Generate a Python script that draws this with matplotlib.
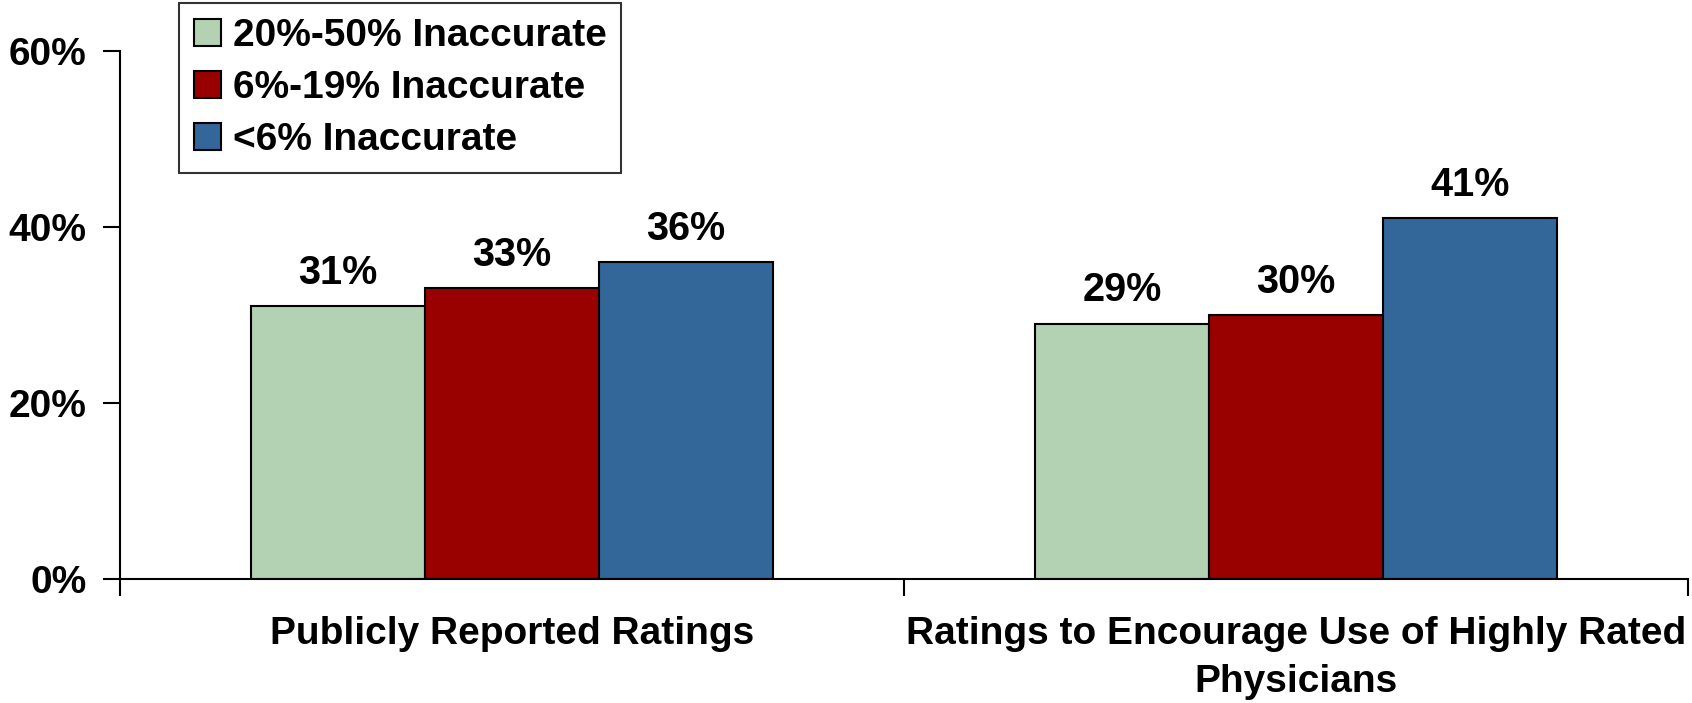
import matplotlib
matplotlib.use("Agg")
import matplotlib.pyplot as plt
from matplotlib.ticker import FixedLocator, PercentFormatter

categories = ["Publicly Reported Ratings",
              "Ratings to Encourage Use of Highly Rated\nPhysicians"]
series_names = ["20%-50% Inaccurate", "6%-19% Inaccurate", "<6% Inaccurate"]
values_high = [31, 29]
values_mid = [33, 30]
values_low = [36, 41]
y_ticks = [0, 20, 40, 60]

colors = ["#B3D2B3", "#990000", "#336699"]
series = [values_high, values_mid, values_low]

plt.rcParams['font.family'] = ['Liberation Sans', 'DejaVu Sans']
plt.rcParams['font.weight'] = 'bold'
FS = 28

fig = plt.figure(figsize=(16.92, 7.03), dpi=100)
ax = fig.add_axes([120/1692, 1-579/703, (1688-120)/1692, (579-50.7)/703])

x = list(range(len(categories)))
bw = 0.222
for i, (vals, c, name) in enumerate(zip(series, colors, series_names)):
    pos = [xi + (i - 1) * bw for xi in x]
    bars = ax.bar(pos, vals, width=bw, color=c, edgecolor='black', linewidth=1.5,
                  label=name, zorder=2)
    for b, v in zip(bars, vals):
        ax.annotate(f"{v}%", (b.get_x() + b.get_width()/2, v), xytext=(0, 16),
                    textcoords='offset points', ha='center', va='baseline',
                    fontsize=28.5, fontweight='bold')

ax.set_xlim(-0.5, len(categories) - 0.5)
ax.set_ylim(0, 60)
ax.yaxis.set_major_locator(FixedLocator(y_ticks))
ax.yaxis.set_major_formatter(PercentFormatter(decimals=0))
ax.tick_params(axis='y', direction='out', length=12, width=1.5, labelsize=FS, pad=12)
for lab in ax.get_yticklabels():
    lab.set_fontweight('bold')

ax.xaxis.set_major_locator(FixedLocator([-0.5, 0.5, 1.5]))
ax.xaxis.set_major_formatter(plt.NullFormatter())
ax.xaxis.set_minor_locator(FixedLocator(x))
ax.set_xticklabels(categories, minor=True)
ax.tick_params(axis='x', which='major', direction='out', length=12, width=1.5)
ax.tick_params(axis='x', which='minor', length=0, labelsize=FS, pad=27)
for lab in ax.get_xticklabels(minor=True):
    lab.set_fontweight('bold')
    lab.set_linespacing(1.4)

for s in ['top', 'right']:
    ax.spines[s].set_visible(False)
for s in ['left', 'bottom']:
    ax.spines[s].set_linewidth(1.5)

leg = fig.legend(loc='upper left', bbox_to_anchor=(179/1692, 1-3/703),
                 fontsize=FS, frameon=True, fancybox=False, edgecolor='black',
                 handlelength=0.7, handleheight=0.7, handletextpad=0.3,
                 labelspacing=0.42, borderpad=0.38, borderaxespad=0)
leg.get_frame().set_linewidth(1.5)
for t in leg.get_texts():
    t.set_fontweight('bold')

fig.savefig("out.png", dpi=100)
